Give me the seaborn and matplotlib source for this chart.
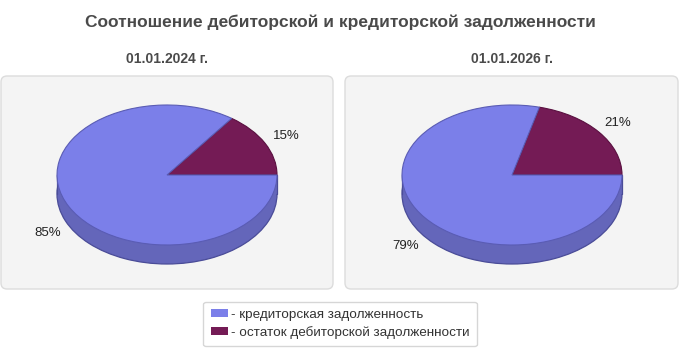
import matplotlib
matplotlib.use("Agg")
import matplotlib.pyplot as plt
import seaborn as sns
import numpy as np
from matplotlib.patches import FancyBboxPatch, Patch

sns.set_theme(style="white")
plt.rcParams['font.family'] = ['Liberation Sans', 'DejaVu Sans']

# ---- data ----
title = "Соотношение дебиторской и кредиторской задолженности"
dates = ["01.01.2024 г.", "01.01.2026 г."]
categories = ["кредиторская задолженность", "остаток дебиторской задолженности"]
payables = [85, 79]      # кредиторская задолженность, %
receivables = [15, 21]   # остаток дебиторской задолженности, %

cat_colors = ["#7b7fe9", "#741b55"]      # кредиторская, дебиторская
cat_edges = ["#5a5cb4", "#5a1040"]
side_color = "#6466ba"
side_edge = "#4a4c98"

W, H = 680, 350
fig = plt.figure(figsize=(W / 100, H / 100), dpi=100)
fig.patch.set_facecolor("white")

def px_box(x0, y0, x1, y1):
    # pixel box (top-left origin) -> figure fraction [l, b, w, h]
    return [x0 / W, 1 - y1 / H, (x1 - x0) / W, (y1 - y0) / H]

fig.text(340 / W, 1 - 22 / H, title, ha="center", va="center",
         fontsize=12.5, fontweight="bold", color="#4a4a4a")

panels = [(1, 333, 167), (345, 678, 512)]
rx_px, ry_px, depth_px = 110, 70, 19
depth = depth_px / ry_px

bg = fig.add_axes(px_box(0, 0, W, H), zorder=-10)
bg.set_xlim(0, W)
bg.set_ylim(H, 0)
bg.axis("off")

for i, (px0, px1, cx) in enumerate(panels):
    bg.add_patch(FancyBboxPatch((px0, 76), px1 - px0, 289 - 76,
                                boxstyle="round,pad=0,rounding_size=6",
                                facecolor="#f4f4f4", edgecolor="#dcdcdc",
                                linewidth=1.0))
    fig.text(cx / W, 1 - 59 / H, dates[i], ha="center", va="center",
             fontsize=10, fontweight="bold", color="#4a4a4a")

    # pie axes
    ax_x0, ax_x1 = cx - 130, cx + 130
    ax_y0, ax_y1 = 175 - 85, 175 + 100
    ax = fig.add_axes(px_box(ax_x0, ax_y0, ax_x1, ax_y1), zorder=1)
    ax.set_facecolor("none")
    vals = [receivables[i], payables[i]]
    cols = [cat_colors[1], cat_colors[0]]
    edges = [cat_edges[1], cat_edges[0]]

    # bottom (side) face
    ax.pie([1], radius=1, center=(0, -depth), colors=[side_color],
           wedgeprops=dict(edgecolor=side_edge, linewidth=0.9), startangle=0)
    xs = np.linspace(-1, 1, 200)
    ax.fill_between(xs, -depth, 0, color=side_color, linewidth=0, zorder=1.5)
    ax.plot([-1, -1], [-depth, 0], color=side_edge, lw=0.9, zorder=1.6)
    ax.plot([1, 1], [-depth, 0], color=side_edge, lw=0.9, zorder=1.6)

    # top face
    wedges, texts, autotexts = ax.pie(
        vals, radius=1, colors=cols, startangle=0, counterclock=True,
        autopct="%d%%", pctdistance=1.22,
        wedgeprops=dict(linewidth=0.8),
        textprops=dict(fontsize=9.5, color="#222222"))
    for wd, ec in zip(wedges, edges):
        wd.set_edgecolor(ec)
        wd.set_zorder(3)
    for t in autotexts:
        x, y = t.get_position()
        if y < 0:
            t.set_position((x, y - depth))
        t.set_zorder(4)

    ax.set_aspect("auto")
    ax.set_xlim(-(cx - ax_x0) / rx_px, (ax_x1 - cx) / rx_px)
    ax.set_ylim(-(ax_y1 - 175) / ry_px, (175 - ax_y0) / ry_px)
    ax.axis("off")

# legend
handles = [Patch(facecolor=cat_colors[0], edgecolor="none"),
           Patch(facecolor=cat_colors[1], edgecolor="none")]
leg = fig.legend(handles, ["- " + c for c in categories],
                 loc="center", bbox_to_anchor=(340 / W, 1 - 324 / H),
                 frameon=True, fancybox=True, fontsize=9.7,
                 handlelength=1.3, handleheight=0.5, handletextpad=0.2,
                 labelspacing=0.38, borderpad=0.55, borderaxespad=0)
leg.get_frame().set_edgecolor("#cccccc")
leg.get_frame().set_facecolor("white")
leg.get_frame().set_linewidth(1.0)
for t in leg.get_texts():
    t.set_color("#333333")

fig.savefig("out.png", dpi=100, facecolor="white")
